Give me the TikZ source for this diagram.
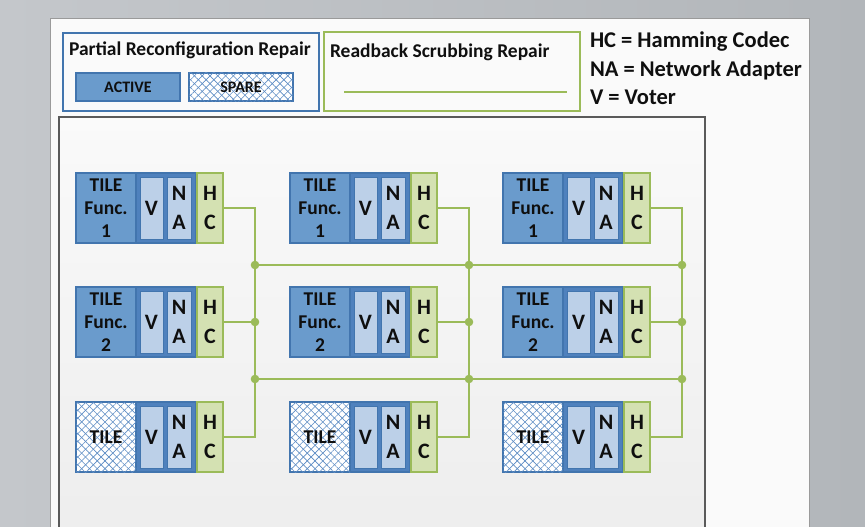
\documentclass[tikz,border=0pt]{standalone}
\usepackage{fontspec}
\setmainfont{Carlito}
\usetikzlibrary{patterns.meta}
\definecolor{bgL}{HTML}{C4C7CB}
\definecolor{bgR}{HTML}{B2B6BA}
\definecolor{pagec}{HTML}{FAFAFA}
\definecolor{pageb}{HTML}{9A9A9A}
\definecolor{panelb}{HTML}{5A5A5A}
\definecolor{blueB}{HTML}{4275AE}
\definecolor{blueM}{HTML}{4F81BD}
\definecolor{blueT}{HTML}{6A9BCC}
\definecolor{blueL}{HTML}{BCD0E8}
\definecolor{hatchc}{HTML}{5C8CC4}
\definecolor{greenB}{HTML}{9BBB59}
\definecolor{greenL}{HTML}{D4E1B2}
\definecolor{txt}{HTML}{0F0F0F}
\begin{document}
\begin{tikzpicture}[x=1pt,y=-1pt,
  every node/.style={text=txt, inner sep=0pt, outer sep=0pt},
  titlef/.style={font=\fontsize{19.5}{22}\selectfont\bfseries},
  legendf/.style={font=\fontsize{22.5}{26}\selectfont\bfseries},
  prbox/.style={draw=blueB, fill=pagec, line width=1.4pt, minimum width=256pt, minimum height=78pt},
  rsbox/.style={draw=greenB, fill=pagec, line width=1.4pt, minimum width=256pt, minimum height=79pt},
  keybox/.style={draw=blueB, line width=1.3pt, minimum width=104pt, minimum height=28pt, font=\fontsize{16}{18}\selectfont\bfseries},
  activekey/.style={keybox, fill=blueT},
  sparekey/.style={keybox, fill=white, hatched},
  hatched/.style={postaction={pattern={Lines[angle=45,distance=5.5pt,line width=0.6pt]}, pattern color=hatchc},
                  postaction={pattern={Lines[angle=-45,distance=5.5pt,line width=0.6pt]}, pattern color=hatchc}},
  container/.style={draw=blueB, fill=blueM, line width=1.3pt, minimum width=120pt, minimum height=70pt},
  tilef/.style={font=\fontsize{19.5}{23}\selectfont\bfseries, align=center},
  activetile/.style={draw=blueB, fill=blueT, line width=1.3pt, minimum width=60pt, minimum height=70pt, tilef},
  sparetile/.style={draw=blueB, fill=white, hatched, line width=1.3pt, minimum width=60pt, minimum height=70pt, tilef},
  letf/.style={font=\fontsize{22}{29}\selectfont\bfseries, align=center},
  vbox/.style={draw=blueB, fill=blueL, line width=1pt, minimum width=23pt, minimum height=62pt, letf},
  nabox/.style={draw=blueB, fill=blueL, line width=1pt, minimum width=24pt, minimum height=62pt, letf},
  hcbox/.style={draw=greenB, fill=greenL, line width=1.4pt, minimum width=26pt, minimum height=70pt, letf},
  bus/.style={draw=greenB, line width=2.6pt},
  dot/.style={fill=greenB}
]
\useasboundingbox (0,0) rectangle (865,527);
\clip (0,0) rectangle (865,527);
\shade[left color=bgL, right color=bgR] (0,0) rectangle (865,527);
% page
\draw[fill=pagec, draw=pageb, line width=0.8pt] (50,18) rectangle (809,540);
% main panel
\draw[draw=panelb, line width=1.5pt, top color=white!98!black, bottom color=white!93!black] (59,117) rectangle (705,540);

% legend: partial reconfiguration
\node[prbox, anchor=north west] (pr) at (63,33) {};
\node[titlef, anchor=west] (prt) at (69,50) {Partial Reconfiguration Repair};
\node[activekey, anchor=north west] (act) at (76,73) {ACTIVE};
\node[sparekey, anchor=north west] (spr) at (189,73) {SPARE};

% legend: readback scrubbing
\node[rsbox, anchor=north west] (rs) at (324,32) {};
\node[titlef, anchor=west] (rst) at (330,52) {Readback Scrubbing Repair};
\coordinate (rsl) at (344,92);
\coordinate (rsr) at (567,92);
\draw[bus, line width=2pt] (rsl) -- (rsr);

% abbreviations
\node[legendf, anchor=west] (l1) at (590,42) {HC = Hamming Codec};
\node[legendf, anchor=west] (l2) at (590,70) {NA = Network Adapter};
\node[legendf, anchor=west] (l3) at (590,97) {V = Voter};

% tiles
\foreach \c/\x in {1/76,2/290,3/503}{
  \foreach \r/\y/\st/\txt in {1/173/activetile/{TILE\\Func.\\1},2/287/activetile/{TILE\\Func.\\2},3/402/sparetile/{TILE}}{
    \node[container, anchor=north west] (c\c\r) at (\x,\y) {};
    \node[\st, anchor=north west] (t\c\r) at (\x,\y) {\txt};
    \node[vbox, anchor=north west] (v\c\r) at (\x+64,\y+4) {V};
    \node[nabox, anchor=north west] (na\c\r) at (\x+91,\y+4) {N\\A};
    \node[hcbox, anchor=north west] (hc\c\r) at (\x+121,\y) {H\\C};
  }
  \coordinate (u\c) at (\x+179,265);
  \coordinate (m\c) at (\x+179,322);
  \coordinate (w\c) at (\x+179,379);
  \coordinate (bot\c) at (\x+179,437);
}
% network
\draw[bus] (u1) -- (u3);
\draw[bus] (w1) -- (w3);
\foreach \c in {1,2,3}{
  \draw[bus, line join=miter] (hc\c1.east) -| (bot\c) -- (hc\c3.east);
  \draw[bus] (hc\c2.east) -- (m\c);
  \fill[dot] (u\c) circle (4.3pt);
  \fill[dot] (m\c) circle (4.3pt);
  \fill[dot] (w\c) circle (4.3pt);
}
\end{tikzpicture}
\end{document}
